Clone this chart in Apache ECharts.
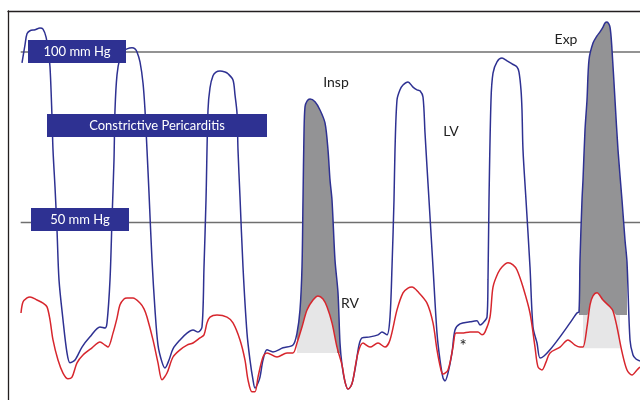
<!DOCTYPE html>
<html>
<head>
<meta charset="utf-8">
<script src="https://cdn.jsdelivr.net/npm/echarts@6/dist/echarts.min.js"></script>
<style>html,body{margin:0;padding:0;background:#fff}#c{width:640px;height:400px}</style>
</head>
<body>
<div id="c"></div>
<script>
// time (arbitrary units) and pressure (mm Hg)
const lvPressure = [
[22,96.8],[25,102.1],[27,105.3],[30,106.2],[35,106.5],[40,107.0],[43,106.7],[46,104.4],[48,100.6],[50,95.6],
[52,81.0],[53,71.3],[55,60.4],[57,47.8],[59,33.2],[63,21.5],[67,11.8],[70,8.9],[75,9.7],[82,13.5],[90,16.5],
[100,19.4],[105,19.1],[107,20.6],[110,33.2],[112,50.8],[114,68.4],[115,83.0],[117,93.3],[120,98.2],[124,100.3],
[127,100.9],[132,101.2],[135,100.9],[137,100.0],[140,97.1],[143,90.9],[145,83.0],[147,71.3],[149,58.7],[152,39.0],
[155,24.4],[158,14.1],[162,9.1],[165,7.4],[169,9.7],[173,13.0],[180,15.6],[187,17.6],[193,18.5],[198,17.9],
[202,19.4],[204,37.0],[206,56.6],[208,83.0],[210,89.5],[213,93.0],[216,94.1],[220,94.4],[225,94.1],[228,93.6],
[233,91.8],[235,87.4],[237,82.1],[238,71.3],[240,57.5],[243,37.0],[247,17.6],[250,9.7],[253,3.9],[255,1.5],
[258,3.0],[260,4.7],[263,9.7],[267,12.7],[273,12.1],[283,13.3],[293,14.1],[297,17.6],[300,24.4],[302,37.0],
[303,56.6],[304,76.3],[305,83.9],[307,85.6],[310,86.2],[315,85.4],[320,83.0],[325,79.2],[328,71.3],[330,62.5],
[332,56.6],[335,39.0],[338,29.4],[340,14.7],[342,8.3],[345,3.3],[348,1.2],[351,2.1],[353,3.9],[356,8.6],
[359,14.1],[362,16.2],[370,16.5],[378,17.1],[382,17.9],[387,17.1],[390,22.3],[392,37.0],[394,56.6],[395,71.3],
[397,85.9],[400,88.9],[403,90.3],[408,91.2],[413,89.7],[417,88.9],[420,88.6],[423,86.8],[425,76.3],[427,66.3],
[429,56.6],[433,37.0],[437,17.6],[440,9.7],[443,4.5],[445,3.6],[448,5.9],[452,11.8],[455,18.5],[460,20.3],
[470,20.9],[477,21.2],[480,20.0],[483,20.6],[487,22.3],[488,33.2],[489,56.6],[491,85.9],[493,93.8],[497,97.1],
[502,98.2],[507,97.4],[512,96.5],[517,95.6],[519,94.1],[521,88.9],[522,83.0],[523,71.3],[526,56.6],[530,37.0],
[533,19.4],[537,14.7],[540,10.3],[544,10.9],[550,12.7],[560,16.5],[570,20.6],[577,23.5],[579,23.8],[580,39.0],
[582,56.6],[583,62.5],[585,77.1],[587,85.9],[589,97.7],[593,102.6],[597,104.7],[600,105.9],[603,107.3],[605,108.5],
[607,108.8],[610,107.3],[612,100.6],[615,85.9],[618,71.3],[622,56.6],[625,44.9],[627,38.4],[630,15.6],[633,11.2],
[636,10.0],[640,9.4]
];
const rvPressure = [
[21,23.5],[23,26.7],[27,27.9],[30,28.2],[37,27.3],[43,26.4],[47,25.3],[50,21.5],[53,15.6],[58,9.7],[63,5.9],
[68,4.2],[72,4.7],[77,8.9],[83,11.2],[92,13.3],[100,15.0],[105,14.1],[108,13.5],[113,17.6],[117,22.0],[120,25.9],
[124,27.6],[127,27.9],[133,27.9],[140,26.4],[144,24.7],[147,22.3],[153,15.6],[158,8.9],[162,3.9],[167,5.9],
[173,10.6],[180,12.7],[187,14.1],[193,14.7],[200,16.2],[204,17.1],[207,20.6],[210,22.3],[217,22.9],[227,22.3],
[233,20.6],[240,15.6],[245,9.7],[248,3.9],[252,0.4],[255,0.4],[258,4.7],[263,10.6],[267,11.8],[277,10.6],
[287,11.8],[293,11.8],[297,14.7],[302,19.4],[307,24.4],[313,27.3],[318,28.5],[323,27.6],[327,25.3],[332,20.6],
[337,13.5],[342,8.3],[345,3.3],[348,1.2],[351,2.1],[353,3.9],[358,11.8],[363,14.7],[370,13.5],[378,14.7],
[385,13.5],[390,15.6],[397,24.4],[403,29.4],[408,30.8],[412,31.1],[418,29.7],[427,26.4],[433,20.6],[437,12.7],
[441,6.8],[443,5.6],[448,6.8],[453,13.5],[456,17.6],[462,17.6],[470,17.9],[478,17.9],[482,17.1],[485,17.9],
[490,22.3],[493,31.1],[498,35.2],[502,37.0],[508,38.2],[513,37.6],[517,36.1],[523,31.1],[530,23.5],[535,13.5],
[538,7.7],[542,6.8],[546,9.1],[550,11.8],[560,13.5],[568,15.6],[575,14.1],[580,13.5],[583,13.5],[587,19.4],
[590,25.9],[593,28.5],[597,29.4],[603,27.3],[610,25.3],[613,24.1],[617,19.4],[622,12.1],[627,6.8],[632,5.3],
[637,6.8],[640,7.7]
];
const refLevels = [100, 50];
const refStart = 20.7;
// shaded beats: time window and pressure levels
const inspWindow = [297, 340], inspLightEnd = 337, inspBase = 11.8;
const expWindow = [579, 627], expLightWindow = [583, 617], expLightEnd = 620, expDarkBase = 22.9, expLightBase = 13.2;

const SM = 0.3;
const sel = (arr, a, b) => arr.filter(p => p[0] >= a && p[0] <= b);
const blue = '#2e3192', red = '#d7262d', dark = '#939395', light = '#e6e6e7';

const series = [];
refLevels.forEach(v => series.push({
  type: 'line', data: [[refStart, v], [640, v]], symbol: 'none', silent: true, z: 1,
  lineStyle: { color: '#6f6f6f', width: 1.5 }
}));
function fill(data, base, color) {
  series.push({ type: 'line', data, symbol: 'none', smooth: SM, silent: true, z: 2,
    lineStyle: { width: 0 }, areaStyle: { color, opacity: 1, origin: base } });
}
fill(sel(lvPressure, inspWindow[0], inspWindow[1]), inspBase, dark);
fill(sel(rvPressure, inspWindow[0], inspLightEnd), inspBase, light);
fill(sel(lvPressure, expWindow[0], expWindow[1]), expDarkBase, dark);
fill(sel(rvPressure, expLightWindow[0], expLightWindow[1]).map(p => [p[0], Math.max(p[1], expDarkBase)])
  .concat([[expLightEnd, expDarkBase]]), expLightBase, light);
series.push({ type: 'line', name: 'LV', data: lvPressure, symbol: 'none', smooth: SM, z: 3,
  lineStyle: { color: blue, width: 1.5 } });
series.push({ type: 'line', name: 'RV', data: rvPressure, symbol: 'none', smooth: SM, z: 4,
  lineStyle: { color: red, width: 1.5 } });

const FONT = 'Lato';
function box(x, y, w, h, text, fs) {
  return { type: 'group', z: 100, children: [
    { type: 'rect', shape: { x, y, width: w, height: h }, style: { fill: blue }, z: 100 },
    { type: 'text', x: x + w / 2, y: y + h / 2, z: 101,
      style: { text, fill: '#fff', font: fs + 'px ' + FONT, align: 'center', verticalAlign: 'middle' } }
  ]};
}
function label(x, y, text, fs) {
  return { type: 'text', x, y, z: 101,
    style: { text, fill: '#222', font: fs + 'px ' + FONT, align: 'center', verticalAlign: 'middle' } };
}

const chart = echarts.init(document.getElementById('c'), null, { renderer: 'canvas' });
chart.setOption({
  animation: false,
  backgroundColor: '#fff',
  grid: { left: 8, top: 11, right: 0, bottom: 0 },
  xAxis: { type: 'value', min: 8, max: 640, position: 'top',
    axisLine: { show: true, onZero: false, lineStyle: { color: '#231f20', width: 1.3 } },
    axisTick: { show: false }, axisLabel: { show: false }, splitLine: { show: false } },
  yAxis: { type: 'value', min: -2, max: 112,
    axisLine: { show: true, onZero: false, lineStyle: { color: '#231f20', width: 1.3 } },
    axisTick: { show: false }, axisLabel: { show: false }, splitLine: { show: false } },
  series,
  graphic: [
    box(28, 40, 98, 23, '100 mm Hg', 13),
    box(47, 114, 220, 23, 'Constrictive Pericarditis', 13),
    box(31, 208, 98, 23, '50 mm Hg', 13),
    label(336, 82, 'Insp', 14),
    label(451, 131, 'LV', 14),
    label(566, 39, 'Exp', 14),
    label(350, 303, 'RV', 14),
    label(463, 347, '*', 17)
  ]
});
</script>
</body>
</html>
